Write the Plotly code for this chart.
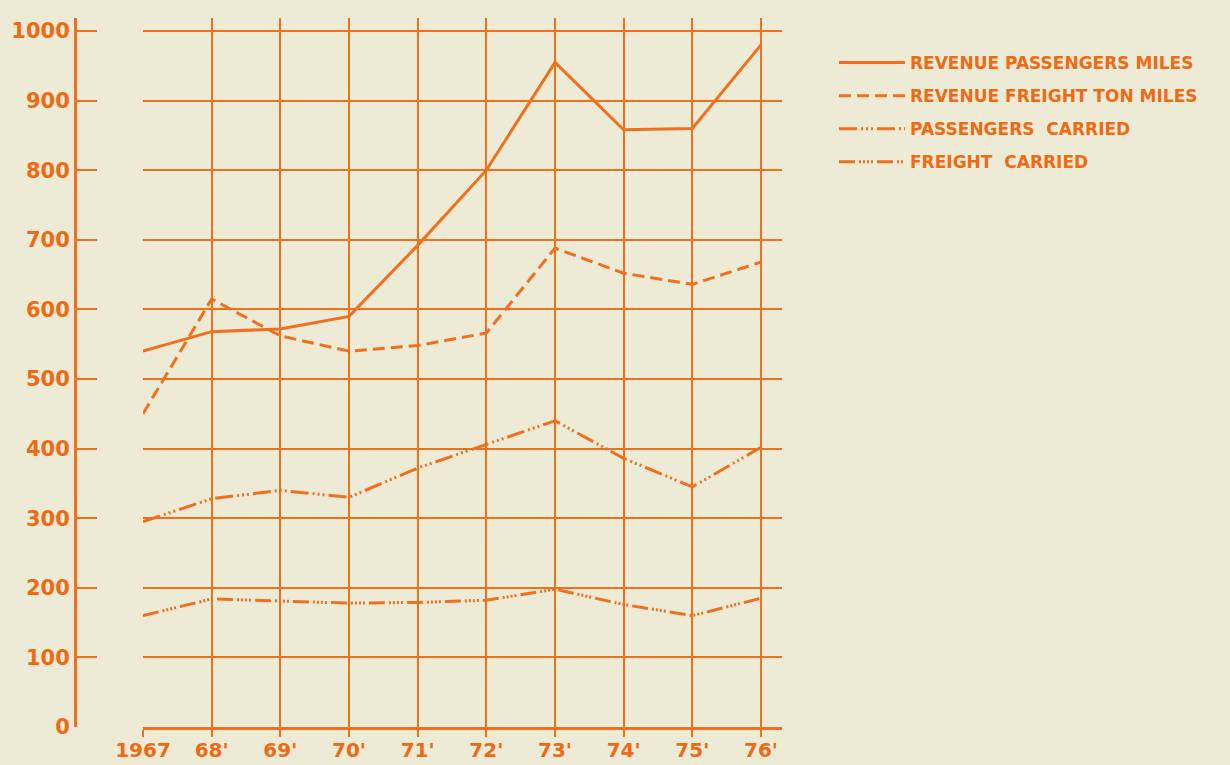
import plotly.graph_objects as go

years = [1967, 1968, 1969, 1970, 1971, 1972, 1973, 1974, 1975, 1976]
year_labels = ["1967", "68'", "69'", "70'", "71'", "72'", "73'", "74'", "75'", "76'"]

rev_passenger_miles = [540, 568, 572, 590, 692, 800, 955, 858, 860, 980]
rev_freight_ton_miles = [450, 615, 562, 540, 548, 566, 688, 652, 636, 668]
passengers_carried = [295, 328, 340, 330, 372, 406, 440, 386, 345, 402]
freight_carried = [160, 184, 181, 178, 179, 182, 198, 176, 160, 185]

y_ticks = [0, 100, 200, 300, 400, 500, 600, 700, 800, 900, 1000]

ORANGE = "#F0701E"
TEXT = "#EE6A14"
BG = "#EDEAD6"
W, H = 1230, 765

series = [
    ("REVENUE PASSENGERS MILES", rev_passenger_miles, "solid"),
    ("REVENUE FREIGHT TON MILES", rev_freight_ton_miles, "12px,6px"),
    ("PASSENGERS\u00a0\u00a0CARRIED", passengers_carried, "18px,4px,2px,3px,2px,3px,2px,4px"),
    ("FREIGHT\u00a0\u00a0CARRIED", freight_carried, "16px,4px,2px,2px,2px,2px,2px,2px,2px,4px"),
]

fig = go.Figure()
for i, (name, vals, dash) in enumerate(series):
    fig.add_trace(go.Scatter(
        x=years, y=vals, mode="lines", name=name,
        line=dict(color=ORANGE, width=3, dash=dash),
        legendgroup=f"g{i}",
    ))

x_left, x_right = 143, 782
y_bottom, y_top = 727, 18

fig.update_layout(
    width=W, height=H,
    margin=dict(l=0, r=0, t=0, b=0),
    paper_bgcolor=BG, plot_bgcolor=BG,
    showlegend=True,
    legend=dict(
        x=834 / W, y=1 - 45 / H, xanchor="left", yanchor="top",
        bgcolor="rgba(0,0,0,0)",
        font=dict(family="DejaVu Sans", size=17, color=TEXT, weight="bold"),
        traceorder="grouped", tracegroupgap=8, itemwidth=66,
    ),
    xaxis=dict(
        domain=[x_left / W, x_right / W],
        range=[1967, 1967 + (x_right - x_left) / ((761 - 143) / 9)],
        tickvals=years, ticktext=year_labels,
        showgrid=True, gridcolor=ORANGE, gridwidth=2,
        showline=True, linecolor=ORANGE, linewidth=3,
        ticks="outside", ticklen=7, tickwidth=2, tickcolor=ORANGE,
        ticklabelstandoff=-4,
        tickfont=dict(family="DejaVu Sans", size=20, color=TEXT, weight="bold"),
        zeroline=False, automargin=False,
    ),
    yaxis=dict(
        domain=[(H - y_bottom) / H, (H - y_top) / H],
        range=[0, 1000 * (y_bottom - y_top) / (727 - 31)],
        tickvals=y_ticks, ticktext=[str(v) for v in y_ticks],
        anchor="free", position=75 / W,
        showgrid=True, gridcolor=ORANGE, gridwidth=2,
        showline=True, linecolor=ORANGE, linewidth=3,
        ticks="inside", ticklen=20, tickwidth=2, tickcolor=ORANGE,
        tickfont=dict(family="DejaVu Sans", size=21, color=TEXT, weight="bold"),
        zeroline=False, automargin=False,
    ),
)

fig.write_html(
    "out.html",
    config={"displayModeBar": False},
    post_script="document.body.style.margin='0px';document.body.style.overflow='hidden';",
)
